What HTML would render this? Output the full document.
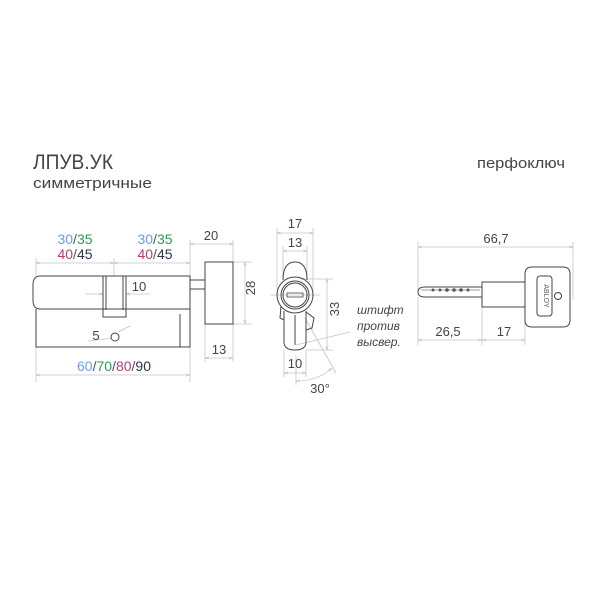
<!DOCTYPE html>
<html><head><meta charset="utf-8"><style>body{margin:0;background:#fff}svg{display:block}</style></head><body>
<svg width="600" height="600" viewBox="0 0 600 600" xmlns="http://www.w3.org/2000/svg" font-family="Liberation Sans, DejaVu Sans, sans-serif">
<defs><marker id="a" viewBox="0 0 10 10" refX="10" refY="5" markerWidth="5" markerHeight="5" orient="auto-start-reverse"><path d="M0,2 L10,5 L0,8" fill="none" stroke="#bbb" stroke-width="1.2"/></marker></defs>
<rect width="600" height="600" fill="#fff"/>
<g fill="#444">
<text x="33" y="169" font-size="21" textLength="80" lengthAdjust="spacingAndGlyphs">ЛПУВ.УК</text>
<text x="33" y="188" font-size="15" textLength="119" lengthAdjust="spacingAndGlyphs">симметричные</text>
<text x="477" y="168" font-size="15" textLength="88" lengthAdjust="spacingAndGlyphs">перфоключ</text>
</g>
<!-- dims lines -->
<g stroke="#c4c4c4" stroke-width="0.8" fill="none">
<line x1="36" y1="258" x2="36" y2="276"/><line x1="114" y1="258" x2="114" y2="276"/><line x1="190" y1="240" x2="190" y2="280"/>
<line x1="36" y1="263" x2="114" y2="263" marker-start="url(#a)" marker-end="url(#a)"/>
<line x1="114" y1="263" x2="190" y2="263" marker-start="url(#a)" marker-end="url(#a)"/>
<line x1="233" y1="240" x2="233" y2="262"/><line x1="190" y1="244" x2="233" y2="244" marker-start="url(#a)" marker-end="url(#a)"/>
<line x1="233" y1="262" x2="252" y2="262"/><line x1="233" y1="324" x2="252" y2="324"/>
<line x1="245" y1="262" x2="245" y2="324" marker-start="url(#a)" marker-end="url(#a)"/>
<line x1="205" y1="324" x2="205" y2="362"/><line x1="233" y1="324" x2="233" y2="362"/>
<line x1="205" y1="358" x2="233" y2="358" marker-start="url(#a)" marker-end="url(#a)"/>
<line x1="36" y1="347" x2="36" y2="382"/><line x1="190" y1="347" x2="190" y2="382"/>
<line x1="36" y1="375" x2="190" y2="375" marker-start="url(#a)" marker-end="url(#a)"/>
<line x1="85" y1="294" x2="103" y2="294" marker-end="url(#a)"/><line x1="126" y1="294" x2="150" y2="294" marker-start="url(#a)"/>
<line x1="88" y1="341" x2="112" y2="338"/><line x1="118" y1="332" x2="130" y2="326"/>
<!-- front -->
<line x1="277" y1="228" x2="277" y2="290"/><line x1="313" y1="228" x2="313" y2="290"/>
<line x1="277" y1="233" x2="313" y2="233" marker-start="url(#a)" marker-end="url(#a)"/>
<line x1="283" y1="246" x2="283" y2="280"/><line x1="307" y1="246" x2="307" y2="280"/>
<line x1="283" y1="251" x2="307" y2="251" marker-start="url(#a)" marker-end="url(#a)"/>
<line x1="300" y1="279" x2="333" y2="279"/><line x1="306" y1="350" x2="333" y2="350"/>
<line x1="327" y1="279" x2="327" y2="350" marker-start="url(#a)" marker-end="url(#a)"/>
<line x1="270" y1="295" x2="320" y2="295"/>
<line x1="284" y1="350" x2="284" y2="377"/><line x1="306" y1="350" x2="306" y2="377"/>
<line x1="284" y1="373" x2="306" y2="373" marker-start="url(#a)" marker-end="url(#a)"/>
<line x1="296" y1="355" x2="296" y2="385"/><line x1="305" y1="318" x2="336" y2="373"/>
<path d="M296,381 Q318,381 332,368" marker-start="url(#a)" marker-end="url(#a)"/>
<path d="M296,345 L350,332"/>
<!-- key -->
<line x1="418" y1="242" x2="418" y2="290"/><line x1="573" y1="242" x2="573" y2="300"/>
<line x1="418" y1="247" x2="573" y2="247" marker-start="url(#a)" marker-end="url(#a)"/>
<line x1="418" y1="297" x2="418" y2="345"/><line x1="482" y1="307" x2="482" y2="345"/><line x1="525" y1="320" x2="525" y2="345"/>
<line x1="418" y1="340" x2="482" y2="340" marker-start="url(#a)" marker-end="url(#a)"/>
<line x1="482" y1="340" x2="525" y2="340" marker-start="url(#a)" marker-end="url(#a)"/>
</g>
<!-- cylinder -->
<g stroke="#444" stroke-width="1" fill="none">
<path d="M40,276 H190 V309 H40 Q33,309 33,300 V285 Q33,276 40,276 Z"/>
<path d="M36,309 V347 H190 V309"/>
<path d="M103,276 V317 H126 V276 M106,276 V310 M123,276 V310"/>
<line x1="180" y1="314" x2="180" y2="347"/>
<circle cx="115" cy="337" r="4"/>
<rect x="190" y="280" width="15" height="9"/>
<rect x="205" y="262" width="28" height="62"/>
<!-- front view -->
<path d="M283,280 Q283,262 295,262 Q307,262 307,280"/>
<circle cx="295" cy="295" r="18"/><circle cx="295" cy="295" r="14"/><circle cx="295" cy="295" r="12"/>
<rect x="287" y="293" width="16" height="4" stroke-width="0.8"/>
<path d="M284,311 V342 Q284,350 295,350 Q306,350 306,342 V311"/>
<line x1="295" y1="315" x2="295" y2="345"/>
<path d="M306,312 L314,318 L312,328 L306,330"/>
<path d="M281,306 L280,318 L284,320"/>
<!-- key -->
<path d="M482,287 H425 Q418,287 418,292 Q418,297 425,297 H482"/>
<line x1="421" y1="290" x2="480" y2="290" stroke-width="0.6"/>
<path d="M482,282 H525 V307 H482 Z"/>
<path d="M525,274 Q525,267 532,267 H563 Q570,267 570,274 V320 Q570,327 563,327 H532 Q525,327 525,320 Z"/>
<rect x="537" y="276" width="15" height="40" rx="3"/>
<circle cx="558" cy="296" r="3.5"/>
</g>
<g fill="#555"><circle cx="433" cy="290" r="1.5"/><circle cx="440" cy="290" r="1.5"/><circle cx="447" cy="290" r="1.8"/><circle cx="454" cy="290" r="1.8"/><circle cx="461" cy="290" r="1.8"/><circle cx="468" cy="290" r="1.5"/></g>
<text x="544" y="296" font-size="7" fill="#555" transform="rotate(90 544 296)" text-anchor="middle">ABLOY</text>
<!-- labels -->
<g font-size="14" text-anchor="middle">
<text x="75" y="244"><tspan fill="#6a9be8">30</tspan><tspan fill="#555">/</tspan><tspan fill="#2e9a5a">35</tspan></text>
<text x="75" y="259"><tspan fill="#b0407a">40</tspan><tspan fill="#555">/</tspan><tspan fill="#2d3358">45</tspan></text>
<text x="155" y="244"><tspan fill="#6a9be8">30</tspan><tspan fill="#555">/</tspan><tspan fill="#2e9a5a">35</tspan></text>
<text x="155" y="259"><tspan fill="#b0407a">40</tspan><tspan fill="#555">/</tspan><tspan fill="#2d3358">45</tspan></text>
<text x="114" y="371"><tspan fill="#6a9be8">60</tspan><tspan fill="#555">/</tspan><tspan fill="#2e9a5a">70</tspan><tspan fill="#555">/</tspan><tspan fill="#b0407a">80</tspan><tspan fill="#555">/</tspan><tspan fill="#2d3358">90</tspan></text>
</g>
<g font-size="13" fill="#444" text-anchor="middle">
<text x="211" y="240">20</text>
<text x="139" y="291">10</text>
<text x="96" y="340">5</text>
<text x="219" y="354">13</text>
<text x="260" y="293" transform="rotate(-90 255 293)">28</text>
<text x="295" y="228">17</text>
<text x="295" y="247">13</text>
<text x="344" y="314" transform="rotate(-90 339 314)">33</text>
<text x="295" y="368">10</text>
<text x="320" y="393">30°</text>
<text x="496" y="243">66,7</text>
<text x="448" y="336">26,5</text>
<text x="504" y="336">17</text>
</g>
<g font-size="12" fill="#444" font-style="italic">
<text x="357" y="314">штифт</text><text x="357" y="330">против</text><text x="357" y="346">высвер.</text>
</g>
</svg>
</body></html>
